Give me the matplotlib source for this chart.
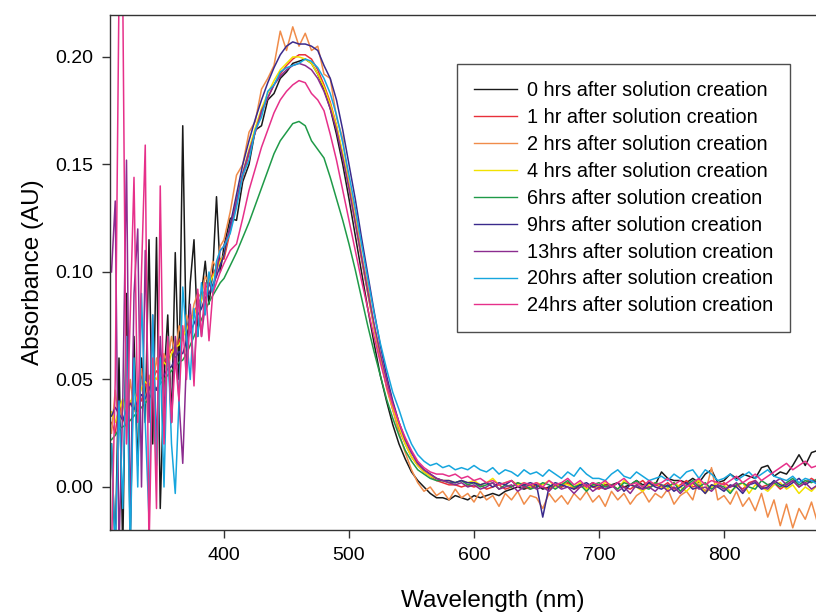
import matplotlib
matplotlib.use('Agg')
import matplotlib.pyplot as plt
import numpy as np

plt.rcParams['font.family'] = ['Liberation Sans', 'DejaVu Sans']

# wavelength grid: 3 nm steps in the noisy UV part, 5 nm after 400
wl = list(range(310, 400, 3)) + list(range(400, 880, 5))

labels = ['0 hrs after solution creation', '1 hr after solution creation',
          '2 hrs after solution creation', '4 hrs after solution creation',
          '6hrs after solution creation', '9hrs after solution creation',
          '13hrs after solution creation', '20hrs after solution creation',
          '24hrs after solution creation']
colors = ['#1a1a1a', '#e8303a', '#f08c4a', '#f2e200', '#1f9a48',
          '#3a2a8c', '#8b2c8f', '#16a6de', '#e6308a']

hr0 = [0.02, -0.03, 0.06, -0.03, 0.09, -0.025, 0.07, 0.01, 0.06, 0.03,
       0.115, 0.02, 0.116, -0.01, 0.05, 0.08, 0.03, 0.109, 0.05, 0.168,
       0.06, 0.095, 0.115, 0.07, 0.09, 0.105, 0.085, 0.10, 0.135, 0.10,
       .112, .125, .124, .142, .150, .166, .168, .180, .183, .190,
       .193, .197, .198, .199, .197, .192, .185, .176, .164, .150,
       .134, .117, .100, .083, .067, .052, .040, .029, .020, .013,
       .007, .003, .000, -.003, -.005, -.005, -.006, -.004, -.005, -.006,
       -.004, -.005, -.004, -.003, -.004, -.002, -.001, .000, -.001, .000,
       .001, -.001, .000, .001, .000, .002, .000, .001, .000, .002,
       .000, .001, .001, .002, .000, .001, .003, .001, .002, .001,
       .007, .004, .003, .003, .002, .004, .002, .006, .008, .002,
       .003, .006, .004, .006, .005, .004, .009, .010, .005, .007,
       .006, .010, .015, .010, .016, .017]

hr1 = [0.030, 0.025, 0.038, 0.032, 0.028, 0.040, 0.036, 0.044, 0.040, 0.048,
       0.045, 0.050, 0.054, 0.052, 0.058, 0.060, 0.064, 0.062, 0.068, 0.071,
       0.074, 0.078, 0.081, 0.085, 0.088, 0.092, 0.095, 0.099, 0.102, 0.106,
       .106, .119, .132, .144, .155, .165, .174, .181, .187, .192,
       .196, .199, .201, .201, .199, .194, .187, .179, .168, .154,
       .139, .123, .106, .090, .074, .060, .047, .036, .027, .020,
       .014, .010, .007, .005, .003, .002, .001, .001, .000, .001,
       .000, .001, -.001, .000, .001, -.001, .000, .002, .000, -.001,
       .001, .000, -.001, .001, .000, .002, -.001, .000, .001, .000,
       -.001, .001, .000, .002, .000, -.001, .001, .003, .000, .001,
       .000, .002, -.001, .001, .003, .000, .001, -.002, .001, .000,
       .002, .000, .001, -.001, .002, .003, .000, .001, .002, -.001,
       .001, .003, .000, .002, .004, .002]

hr2 = [0.025, 0.045, 0.028, 0.040, 0.030, 0.050, 0.035, 0.042, 0.055, 0.040,
       0.052, 0.045, 0.060, 0.048, 0.062, 0.058, 0.070, 0.062, 0.075, 0.068,
       0.080, 0.075, 0.085, 0.090, 0.088, 0.098, 0.095, 0.105, 0.102, 0.112,
       .115, .128, .145, .150, .165, .170, .185, .190, .196, .212,
       .203, .214, .205, .211, .203, .205, .192, .190, .172, .162,
       .141, .128, .108, .094, .075, .062, .046, .036, .025, .016,
       .008, .002, -.002, .000, -.004, -.002, -.006, -.001, -.005, -.003,
       -.007, -.002, -.006, -.004, -.009, -.003, -.006, -.002, -.008, -.004,
       -.005, -.010, -.003, -.007, -.004, -.008, -.003, -.006, -.002, -.007,
       -.004, -.009, -.002, -.006, -.003, -.008, -.004, -.002, -.007, -.003,
       -.005, -.001, -.008, -.004, -.002, -.006, .004, -.003, .009, -.006,
       -.004, -.008, -.002, -.009, -.005, -.011, -.003, -.014, -.006, -.018,
       -.008, -.019, -.010, -.015, -.007, -.017]

hr4 = [0.035, 0.030, 0.036, 0.041, 0.034, 0.039, 0.044, 0.040, 0.046, 0.049,
       0.047, 0.052, 0.050, 0.055, 0.058, 0.056, 0.062, 0.065, 0.066, 0.070,
       0.073, 0.077, 0.080, 0.084, 0.087, 0.091, 0.094, 0.098, 0.101, 0.105,
       .108, .121, .134, .146, .157, .167, .176, .183, .189, .194,
       .197, .200, .200, .199, .197, .192, .186, .178, .168, .155,
       .140, .124, .107, .091, .075, .061, .048, .037, .028, .020,
       .014, .010, .007, .005, .004, .003, .003, .002, .003, .002,
       .003, .001, .002, .004, .001, .002, .003, .001, .002, .000,
       .002, .001, .003, .000, .002, .001, .000, .002, -.001, .001,
       .000, .002, .001, -.001, .003, .001, .000, -.002, .001, .002,
       .000, -.001, .002, .000, -.002, .001, .003, -.003, .000, .002,
       .001, -.002, .000, .002, -.003, .001, .000, -.002, .001, .002,
       -.001, .001, -.003, .000, -.002, .001]

hr6 = [0.022, 0.024, 0.027, 0.028, 0.029, 0.031, 0.033, 0.035, 0.037, 0.039,
       0.041, 0.044, 0.046, 0.048, 0.050, 0.052, 0.054, 0.056, 0.058, 0.059,
       0.062, 0.066, 0.070, 0.074, 0.078, 0.082, 0.086, 0.089, 0.092, 0.095,
       .097, .103, .109, .116, .123, .131, .139, .147, .155, .161,
       .165, .169, .170, .168, .161, .157, .153, .144, .134, .124,
       .113, .101, .088, .075, .063, .052, .041, .032, .024, .017,
       .012, .008, .006, .004, .003, .003, .002, .002, .003, .001,
       .002, .000, .001, .002, -.001, .001, .000, .002, .001, -.001,
       .000, .002, .001, -.001, .001, .003, .000, .001, -.002, .001,
       .002, .000, .001, -.001, .002, .001, .003, .000, -.001, .002,
       .001, .000, .002, -.002, .001, .003, .000, .002, -.001, .001,
       .000, -.003, .001, .002, .000, -.001, .003, .001, .002, .000,
       .002, .004, .001, .003, .002, .004]

hr9 = [0.033, 0.037, 0.034, 0.031, 0.036, 0.039, 0.036, 0.040, 0.043, 0.041,
       0.046, 0.048, 0.045, 0.050, 0.052, 0.055, 0.056, 0.060, 0.063, 0.062,
       0.068, 0.072, 0.076, 0.080, 0.083, 0.088, 0.090, 0.094, 0.098, 0.103,
       .108, .122, .136, .150, .161, .171, .180, .188, .195, .201,
       .205, .207, .206, .206, .205, .203, .196, .190, .180, .166,
       .150, .134, .116, .099, .082, .066, .052, .040, .030, .022,
       .016, .011, .008, .006, .004, .003, .003, .002, .003, .002,
       .002, .001, .002, .000, .002, .001, .003, .000, .001, .002,
       .001, -.014, .000, .002, .001, .000, -.001, .001, .002, .000,
       .001, -.001, .000, .002, -.002, .001, .000, -.001, .002, .000,
       -.001, .001, -.002, .000, .002, -.001, .000, -.003, .001, .000,
       -.002, .001, .000, -.003, .001, .002, -.001, .000, .003, .001,
       .000, .002, .004, .001, .003, .002]

hr13 = [0.10, 0.133, -0.03, 0.04, 0.152, -0.02, 0.09, 0.12, 0.0, 0.11,
        0.03, 0.08, 0.02, 0.07, 0.035, 0.065, 0.03, 0.07, 0.04, 0.011,
        0.06, 0.085, 0.05, 0.09, 0.07, 0.085, 0.095, 0.09, 0.10, 0.11,
        .112, .120, .133, .146, .156, .165, .175, .181, .187, .191,
        .194, .196, .197, .196, .194, .190, .184, .176, .166, .153,
        .139, .123, .107, .091, .076, .062, .050, .039, .030, .022,
        .016, .011, .008, .006, .004, .003, .002, .001, .002, .000,
        .001, -.001, .000, .002, -.001, .000, .001, -.002, .000, .001,
        -.001, .000, -.002, .001, -.001, .000, -.003, .000, .001, -.002,
        .000, -.001, .001, -.002, .000, -.003, .001, -.001, .000, -.002,
        .001, -.002, .000, -.003, .000, .002, -.001, .000, -.002, .001,
        -.001, .000, .002, -.002, .001, .003, .000, -.001, .002, .004,
        .001, .003, .000, .002, -.001, .001]

hr20 = [0.02, -0.03, 0.04, -0.01, 0.07, -0.03, 0.06, 0.0, 0.09, 0.03,
        -0.015, 0.08, 0.01, 0.06, 0.0, 0.07, 0.02, -0.003, 0.04, 0.093,
        0.07, 0.05, 0.083, 0.07, 0.095, 0.08, 0.10, 0.09, 0.105, 0.11,
        .112, .118, .130, .145, .152, .166, .172, .184, .187, .193,
        .195, .196, .197, .199, .198, .195, .190, .183, .173, .160,
        .145, .130, .113, .097, .081, .067, .055, .044, .036, .027,
        .020, .015, .012, .010, .011, .009, .010, .008, .009, .008,
        .010, .008, .007, .009, .006, .008, .007, .005, .008, .006,
        .007, .005, .008, .006, .004, .007, .005, .009, .006, .004,
        .004, .003, .006, .008, .005, .004, .007, .005, .003, .004,
        .005, .003, .006, .004, .007, .008, .004, .008, .006, .003,
        .004, .006, .003, .005, .007, .004, .006, .008, .005, .004,
        .003, .005, .002, .004, .003, .001]

hr24 = [-0.03, 0.05, 0.23, 0.23, 0.02, 0.08, 0.144, 0.03, 0.10, 0.159,
        -0.03, 0.06, -0.01, 0.14, 0.02, 0.07, 0.03, 0.06, 0.04, 0.075,
        0.05, 0.08, 0.047, 0.092, 0.07, 0.095, 0.068, 0.09, 0.095, 0.10,
        .104, .110, .113, .125, .138, .148, .158, .166, .174, .180,
        .184, .187, .189, .188, .183, .180, .175, .164, .152, .138,
        .124, .110, .096, .083, .070, .058, .047, .038, .030, .023,
        .017, .012, .009, .007, .006, .006, .005, .006, .004, .005,
        .003, .004, .002, .003, .001, .002, .003, .000, .002, .001,
        .002, .000, .003, .001, .002, .004, .001, .003, .000, .002,
        .001, .003, .000, .002, .004, .001, .002, .000, .003, .001,
        .002, .004, .001, .003, .000, .002, .004, .001, .003, .002,
        .001, .003, .005, .002, .004, .006, .003, .005, .007, .009,
        .011, .008, .010, .012, .009, .010]

series = [hr0, hr1, hr2, hr4, hr6, hr9, hr13, hr20, hr24]

fig = plt.figure(figsize=(8.16, 6.13), dpi=100)
ax = fig.add_axes([110/816, 83/613, 706/816, 515/613])

for ys, c, lab in zip(series, colors, labels):
    ax.plot(wl, ys, color=c, lw=1.1, label=lab)

ax.set_xlim(308.8, 873.6)
ax.set_ylim(-0.020, 0.2195)
ax.set_xticks([400, 500, 600, 700, 800])
ax.set_yticks([0.00, 0.05, 0.10, 0.15, 0.20])
ax.set_yticklabels(['0.00', '0.05', '0.10', '0.15', '0.20'])
ax.tick_params(labelsize=14, length=6, width=1, color='#333333', pad=6)

for s in ['left', 'top', 'bottom']:
    ax.spines[s].set_color('#333333')
    ax.spines[s].set_linewidth(1)
ax.spines['right'].set_visible(False)

ax.set_xlabel('Wavelength (nm)', fontsize=17.5)
ax.set_ylabel('Absorbance (AU)', fontsize=17.5)
ax.xaxis.set_label_coords(0.542, -0.117)
ax.yaxis.set_label_coords(-0.093, 0.5)

leg = ax.legend(loc='upper left', bbox_to_anchor=(457/816, 1 - 64/613),
                bbox_transform=fig.transFigure, fontsize=14.3, frameon=True,
                fancybox=False, handlelength=2.15, handletextpad=0.5,
                labelspacing=0.40, borderpad=0.85, borderaxespad=0)
leg.get_frame().set_edgecolor('#222222')
leg.get_frame().set_linewidth(1)
for line in leg.get_lines():
    line.set_linewidth(1.0)

fig.savefig('out.png', dpi=100)
